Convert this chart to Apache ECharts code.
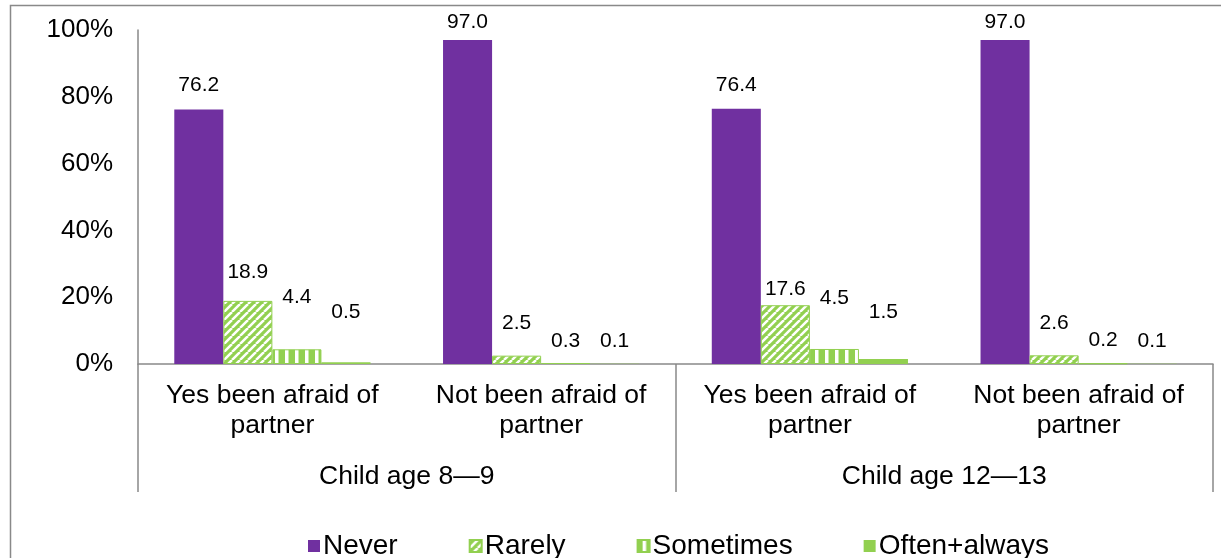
<!DOCTYPE html>
<html>
<head>
<meta charset="utf-8">
<script src="https://cdn.jsdelivr.net/npm/echarts@6/dist/echarts.min.js"></script>
<style>
html,body{margin:0;padding:0;background:#fff;}
#c{width:1221px;height:558px;}
</style>
</head>
<body>
<div id="c"></div>
<script>
var categories = ['Yes been afraid of\npartner', 'Not been afraid of\npartner', 'Yes been afraid of\npartner', 'Not been afraid of\npartner'];
var groups = ['Child age 8\u20149', 'Child age 12\u201413'];
var seriesNames = ['Never', 'Rarely', 'Sometimes', 'Often+always'];
var never = [76.2, 97.0, 76.4, 97.0];
var rarely = [18.9, 2.5, 17.6, 2.6];
var sometimes = [4.4, 0.3, 4.5, 0.2];
var often = [0.5, 0.1, 1.5, 0.1];
var yTicks = [0, 20, 40, 60, 80, 100];

// styling: extra upward lift (px) of each data label, as placed in the original
var labelLift = [
  [4, -3, 3, -3],
  [8, 12, -4, 12],
  [32, 1, 30, 2],
  [30, 2, 26, 2]
];

var PURPLE = '#7030A0', GREEN = '#92D050', GRAY = '#898989';
var FONT = 'Liberation Sans, Arial, sans-serif';

function diagPattern() {
  var c = document.createElement('canvas');
  c.width = 8; c.height = 8;
  var g = c.getContext('2d');
  g.fillStyle = GREEN; g.fillRect(0, 0, 8, 8);
  g.strokeStyle = '#fff'; g.lineWidth = 2.5;
  for (var k = -8; k <= 16; k += 8) {
    g.beginPath(); g.moveTo(k, 8); g.lineTo(k + 8, 0); g.stroke();
  }
  return { image: c, repeat: 'repeat' };
}
function vertPattern() {
  var c = document.createElement('canvas');
  c.width = 10; c.height = 10;
  var g = c.getContext('2d');
  g.fillStyle = GREEN; g.fillRect(0, 0, 10, 10);
  g.fillStyle = '#fff'; g.fillRect(5, 0, 3.5, 10);
  return { image: c, repeat: 'repeat' };
}

var chart = echarts.init(document.getElementById('c'), null, { renderer: 'canvas' });

function barSeries(idx, data, color, border) {
  return {
    name: seriesNames[idx], type: 'bar', xAxisIndex: 0, yAxisIndex: 0,
    data: data.map(function (v, i) {
      return { value: v, label: { offset: [0, -labelLift[idx][i]] } };
    }),
    barGap: '0%', barCategoryGap: '27%',
    itemStyle: { color: color, borderColor: border, borderWidth: border ? 1 : 0 },
    label: {
      show: true, position: 'top', distance: 10, color: '#000',
      fontFamily: FONT, fontSize: 21,
      formatter: function (p) { return p.value.toFixed(1); }
    },
    emphasis: { disabled: true }
  };
}

chart.setOption({
  animation: false,
  textStyle: { fontFamily: FONT },
  graphic: [{
    type: 'rect', shape: { x: 10.5, y: 5.5, width: 1300, height: 700 },
    style: { fill: 'none', stroke: GRAY, lineWidth: 1.5 }, z: -1, silent: true
  }],
  grid: { left: 138, right: 8, top: 30, bottom: 194 },
  legend: {
    data: seriesNames, top: 527, left: 303, icon: 'rect',
    itemWidth: 12, itemHeight: 12, itemGap: 71,
    textStyle: { fontSize: 28, color: '#000', fontFamily: FONT, padding: [0, 0, 0, -2] }
  },
  xAxis: [{
    type: 'category', data: categories, position: 'bottom',
    axisLine: { show: true, lineStyle: { color: GRAY, width: 1.5 } },
    axisTick: { show: false },
    axisLabel: { interval: 0, fontSize: 26.5, lineHeight: 30, margin: 17, color: '#000', fontFamily: FONT }
  }, {
    type: 'category', data: groups, position: 'bottom',
    axisLine: { show: false },
    axisTick: { show: true, length: 128, lineStyle: { color: GRAY, width: 1.5 } },
    axisLabel: { interval: 0, fontSize: 26.5, margin: 99, color: '#000', fontFamily: FONT }
  }],
  yAxis: {
    type: 'value', min: 0, max: 100, interval: 20,
    axisLine: { show: true, lineStyle: { color: GRAY, width: 1.5 } },
    axisTick: { show: false },
    splitLine: { show: false },
    axisLabel: {
      margin: 25, fontSize: 26, color: '#000', fontFamily: FONT,
      formatter: function (v) { return yTicks.indexOf(v) >= 0 ? v + '%' : ''; }
    }
  },
  series: [
    barSeries(0, never, PURPLE, null),
    barSeries(1, rarely, diagPattern(), GREEN),
    barSeries(2, sometimes, vertPattern(), GREEN),
    barSeries(3, often, GREEN, null)
  ]
});
</script>
</body>
</html>
